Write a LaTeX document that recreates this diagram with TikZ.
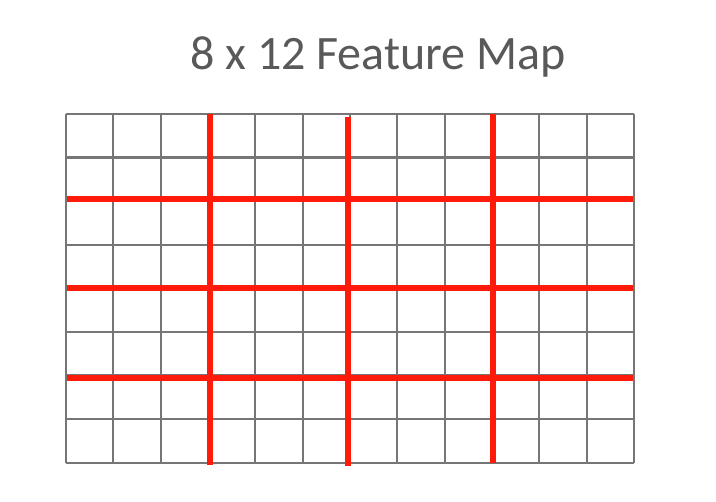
\documentclass[tikz,border=0pt]{standalone}
\usepackage{fontspec}
\setmainfont{Carlito}
\definecolor{titlegray}{HTML}{595959}
\definecolor{cellgray}{HTML}{767676}
\definecolor{poolred}{HTML}{FF1A0A}
\begin{document}
\begin{tikzpicture}[x=1pt,y=-1pt]
    \useasboundingbox (0,0) rectangle (716,502);
    \node[anchor=base, text=titlegray, font=\fontsize{48}{54}\selectfont] (title) at (378,69.3) {8 x 12 Feature Map};

    % cells
    \foreach \i in {0,...,12}
        \draw[cellgray, line width=2.2pt] ({66+47.33*\i},114) -- ({66+47.33*\i},463);
    \foreach \j in {0,...,8}
        \draw[cellgray, line width=2.2pt] (66,{114+43.6*\j}) -- (634,{114+43.6*\j});

    % pooling regions
    \draw[poolred, line width=5.5pt] (210,114) -- (210,465);
    \draw[poolred, line width=5.5pt] (348,117) -- (348,466);
    \draw[poolred, line width=5.5pt] (493,114) -- (493,463);
    \draw[poolred, line width=5.5pt] (67,199) -- (633,199);
    \draw[poolred, line width=5.5pt] (67,288) -- (633,288);
    \draw[poolred, line width=5.5pt] (67,378) -- (633,378);
\end{tikzpicture}
\end{document}
